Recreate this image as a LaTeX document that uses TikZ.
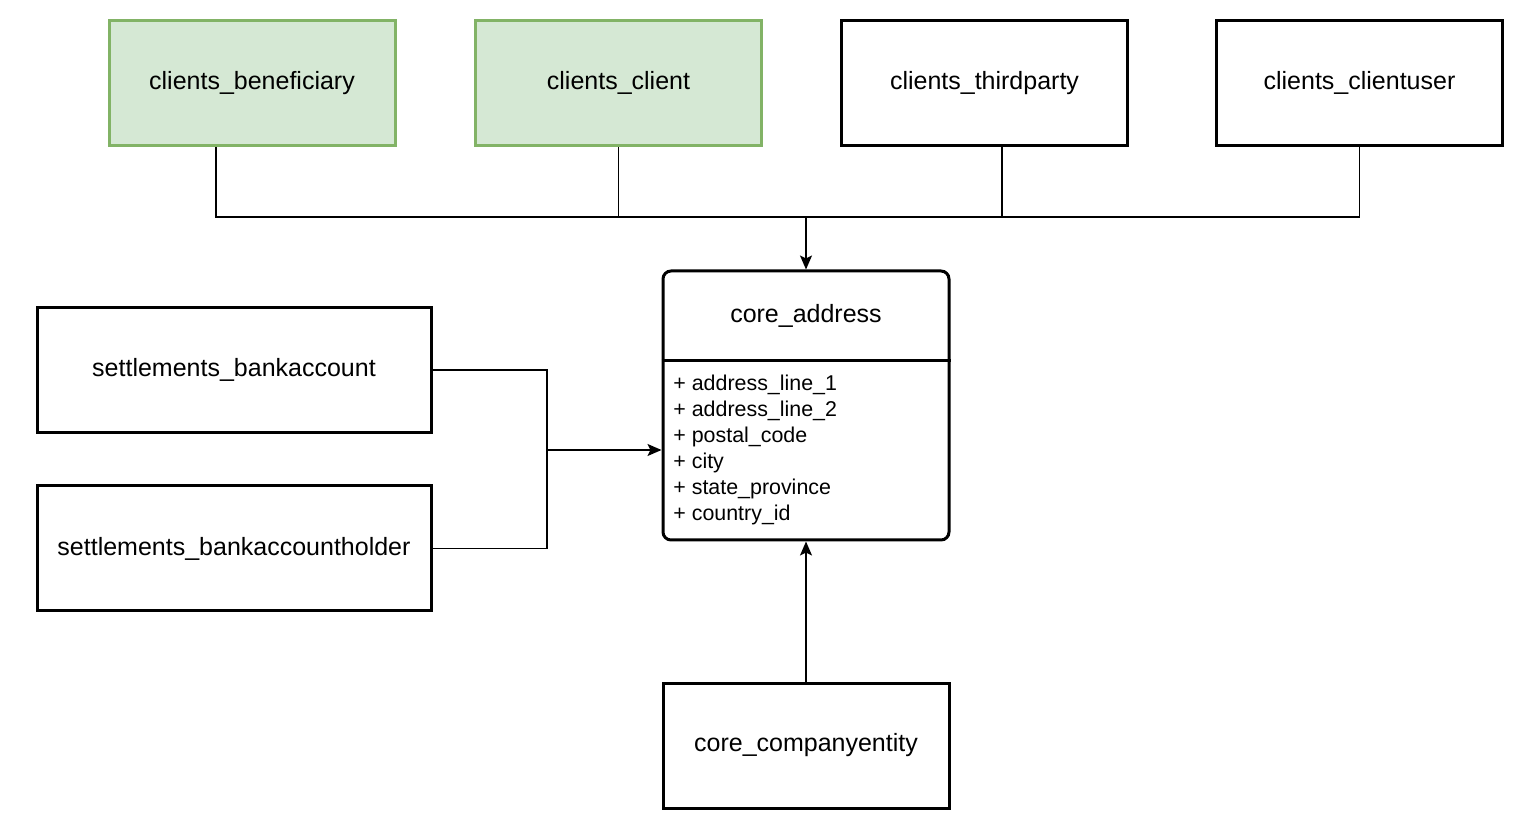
\documentclass[tikz,border=0pt]{standalone}
\usepackage{fontspec}
\setmainfont{Liberation Sans}
\usetikzlibrary{arrows.meta}

\begin{document}
\begin{tikzpicture}[x=0.5pt, y=-0.5pt,
    table/.style={draw, line width=1.5pt, minimum width=143pt, minimum height=62.5pt,
        inner sep=0pt, font=\fontsize{12.5pt}{15pt}\selectfont},
    related/.style={table, draw=tablegreen, fill=tablefill},
    link/.style={line width=0.75pt},
    arrow/.style={link, -{Stealth[length=7pt, width=6pt, inset=1.5pt]}}]
    \definecolor{tablegreen}{HTML}{82B366}
    \definecolor{tablefill}{HTML}{D5E8D4}
    \useasboundingbox (0,0) rectangle (1531,817);
% top row
\node[related] (benef) at (252,83) {clients\_beneficiary};
\node[related] (client) at (618.5,83) {clients\_client};
\node[table] (third) at (984.5,83) {clients\_thirdparty};
\node[table] (cuser) at (1359.5,83) {clients\_clientuser};
% left column
\node[table, minimum width=197pt] (bank) at (234,370) {settlements\_bankaccount};
\node[table, minimum width=197pt] (holder) at (234,548.5) {settlements\_bankaccountholder};
\node[table] (company) at (806,745.5) {core\_companyentity};
% the address table, header + attributes
\node[draw, line width=1.5pt, rounded corners=4pt, minimum width=143pt, minimum height=134.5pt,
    inner sep=0pt] (addr) at (806,405.5) {};
\draw[line width=1.5pt] (addr.west |- 0,361) -- (addr.east |- 0,361);
\node[font=\fontsize{12.5pt}{15pt}\selectfont] (addrhead) at (806,316) {core\_address};
\node[anchor=north west, align=left, inner sep=0pt,
    font=\fontsize{10.7pt}{13pt}\selectfont] (addrattr) at (673,375)
    {+ address\_line\_1\\+ address\_line\_2\\+ postal\_code\\+ city\\+ state\_province\\+ country\_id};
% connectors
\coordinate (bus) at (806,217);
\coordinate (join) at (547,450);
\draw[link] ([xshift=-18pt]benef.south) |- (bus);
\draw[link] (client.south) |- (bus);
\draw[link] ([xshift=8.75pt]third.south) |- (bus);
\draw[link] (cuser.south) |- (bus);
\draw[arrow] (bus) -- (addr.north);
\draw[link] (bank.east) -| (join);
\draw[link] (holder.east) -| (join);
\draw[arrow] (join) -- (addr.west |- join);
\draw[arrow] (company.north) -- (addr.south);
% \draw[red] (0,0) rectangle (1531,817);
\end{tikzpicture}
\end{document}
